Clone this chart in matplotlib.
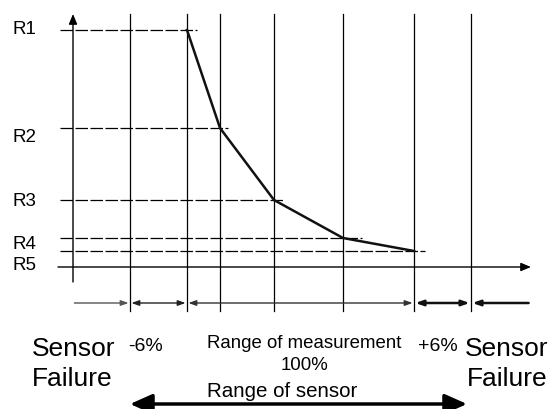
import matplotlib
matplotlib.use("Agg")
import matplotlib.pyplot as plt
from matplotlib.patches import FancyArrowPatch

plt.rcParams['font.family'] = ['Liberation Sans', 'DejaVu Sans']

# ---- data (schematic units) ----
level_names = ['R1', 'R2', 'R3', 'R4', 'R5']
level_values = [237, 139, 67, 29, 16]
level_line_end = [197, 228, 283, 362, 425]

grid_x = [130, 187, 220, 274, 343, 414, 471]

curve_x = [187, 220, 274, 343, 414]
curve_y = [237, 139, 67, 29, 16]

segments = [(73, 130), (130, 187), (187, 414), (414, 471), (471, 530)]

W, H = 553, 410
fig = plt.figure(figsize=(W / 100, H / 100), dpi=100)
ax = fig.add_axes([0, 0, 1, 1])
ax.set_xlim(0, W)
ax.set_ylim(268 - H, 268)
ax.axis('off')

def py(p):
    return 268 - p

# vertical grid lines
for gx in grid_x:
    ax.plot([gx, gx], [py(15), py(312)], color='black', lw=0.9)

# dashed reference levels
for v, xe in zip(level_values, level_line_end):
    ax.plot([60, xe], [v, v], color='black', lw=0.9, linestyle=(0, (10, 2)))

# level labels
label_y = [30, 138, 202, 245, 266]
for name, ly in zip(level_names, label_y):
    ax.text(13, py(ly), name, fontsize=13.5, ha='left', va='center')

# axes with arrows
ax.annotate('', xy=(531, 0), xytext=(58, 0),
            arrowprops=dict(arrowstyle='-|>,head_length=0.6,head_width=0.25',
                            color='black', lw=1.0, shrinkA=0, shrinkB=0))
ax.annotate('', xy=(73, py(15)), xytext=(73, py(283)),
            arrowprops=dict(arrowstyle='-|>,head_length=0.6,head_width=0.25',
                            color='black', lw=1.0, shrinkA=0, shrinkB=0))

# characteristic curve
ax.plot(curve_x, curve_y, color='#111111', lw=1.8, solid_joinstyle='miter')

# range segments
yseg = py(304)
styles = ['-|>', '<|-|>', '<|-|>', '<|-|>', '<|-']
colors = ['#555555', '#222222', '#333333', '#111111', '#111111']
widths = [1.0, 1.0, 1.0, 1.8, 1.8]
for (x0, x1), st, c, w in zip(segments, styles, colors, widths):
    ax.annotate('', xy=(x1, yseg), xytext=(x0, yseg),
                arrowprops=dict(arrowstyle=st + ',head_length=0.45,head_width=0.16',
                                color=c, lw=w, shrinkA=1, shrinkB=1))

# big arrow: range of sensor
big = FancyArrowPatch((130, py(405)), (467, py(405)),
                      arrowstyle='<|-|>,head_length=0.9,head_width=0.4',
                      mutation_scale=15, color='black', lw=2.5,
                      shrinkA=0, shrinkB=0)
ax.add_patch(big)

# texts
ax.text(32, py(356), 'Sensor', fontsize=19, ha='left', va='baseline')
ax.text(32, py(386), 'Failure', fontsize=19, ha='left', va='baseline')
ax.text(465, py(356), 'Sensor', fontsize=19, ha='left', va='baseline')
ax.text(467, py(386), 'Failure', fontsize=19, ha='left', va='baseline')
ax.text(128, py(351), '-6%', fontsize=14, ha='left', va='baseline')
ax.text(418, py(351), '+6%', fontsize=14, ha='left', va='baseline')
ax.text(304, py(348), 'Range of measurement', fontsize=13.4, ha='center', va='baseline')
ax.text(305, py(370), '100%', fontsize=13.4, ha='center', va='baseline')
ax.text(207, py(397), 'Range of sensor', fontsize=14.8, ha='left', va='baseline')

fig.savefig('out.png', dpi=100)
